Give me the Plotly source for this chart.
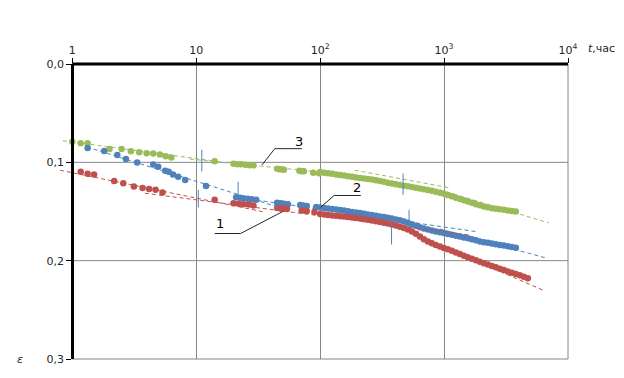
import numpy as np
import plotly.graph_objects as go

# ---------------- data ----------------
dense_t = [100, 108, 116, 125, 135, 145, 156, 168, 181, 195, 210, 226, 243, 262, 282, 304, 327, 352,
           379, 408, 440, 474, 510, 550, 592, 638, 687, 740, 797, 858, 925, 996, 1073, 1156, 1245,
           1341, 1444, 1556, 1676, 1805, 1944, 2094, 2256, 2430, 2617, 2819, 3036, 3270, 3522, 3794]
red_tail_t = [4087, 4400, 4740]

green_t = [1.0, 1.17, 1.33, 2.0, 2.5, 2.97, 3.47, 3.98, 4.5, 5.1, 5.66, 6.3, 14.1,
           20, 21.5, 23, 25, 27, 29, 45, 47, 49, 51, 68, 71, 74, 88, 98] + dense_t
green_e = [0.079, 0.0805, 0.0805, 0.0865, 0.0865, 0.0888, 0.0898, 0.0908, 0.091, 0.092, 0.0938, 0.0951, 0.0989,
           0.1015, 0.102, 0.102, 0.1025, 0.103, 0.103, 0.1065, 0.107, 0.107, 0.1075, 0.1085, 0.109, 0.109, 0.1105, 0.111,
           0.1098, 0.1105, 0.1111, 0.1117, 0.1123, 0.1129, 0.1135, 0.1141, 0.1147, 0.1153,
           0.1159, 0.1165, 0.1170, 0.1175, 0.1181, 0.1189, 0.1198, 0.1207, 0.1215, 0.1222,
           0.1230, 0.1237, 0.1244, 0.1251, 0.1258, 0.1265, 0.1273, 0.1281, 0.1290, 0.1300,
           0.1310, 0.1320, 0.1333, 0.1346, 0.1359, 0.1373, 0.1386, 0.1399, 0.1412, 0.1425,
           0.1437, 0.1448, 0.1458, 0.1466, 0.1472, 0.1477, 0.1483, 0.1489, 0.1495, 0.1500]

blue_t = [1.33, 1.81, 2.31, 2.71, 3.34, 4.5, 4.94, 5.62, 6.0, 6.5, 7.15, 8.15, 12.0,
          21, 22.5, 24, 26, 28, 30.5, 45, 48, 51, 55, 69, 73, 78, 93] + dense_t
blue_e = [0.0854, 0.0884, 0.0925, 0.0965, 0.1002, 0.1022, 0.1045, 0.1086, 0.1096, 0.1123, 0.1146, 0.118, 0.124,
          0.1355, 0.136, 0.1365, 0.137, 0.1375, 0.138, 0.141, 0.1415, 0.142, 0.1425, 0.1435, 0.144, 0.1445, 0.1455,
          0.1460, 0.1465, 0.1470, 0.1475, 0.1480, 0.1485, 0.1491, 0.1497, 0.1504, 0.1510,
          0.1516, 0.1523, 0.1530, 0.1536, 0.1543, 0.1550, 0.1557, 0.1564, 0.1572, 0.1581,
          0.1590, 0.1601, 0.1614, 0.1629, 0.1645, 0.1660, 0.1673, 0.1684, 0.1694, 0.1703,
          0.1711, 0.1719, 0.1728, 0.1737, 0.1746, 0.1755, 0.1764, 0.1773, 0.1783, 0.1793,
          0.1804, 0.1812, 0.1819, 0.1826, 0.1833, 0.1840, 0.1847, 0.1854, 0.1861, 0.1868]

red_t = [1.17, 1.33, 1.5, 2.18, 2.58, 3.14, 3.69, 4.17, 4.7, 5.35, 14.1,
         20, 22, 24, 26.5, 29, 45, 48, 51, 54, 71, 75, 78, 90] + dense_t + red_tail_t
red_e = [0.1096, 0.1116, 0.1123, 0.119, 0.1213, 0.1247, 0.126, 0.127, 0.128, 0.1307, 0.138,
         0.1415, 0.142, 0.1425, 0.143, 0.1438, 0.1465, 0.147, 0.147, 0.1475, 0.149, 0.149, 0.1495, 0.1505,
         0.1526, 0.1531, 0.1536, 0.1540, 0.1544, 0.1548, 0.1552, 0.1556, 0.1561, 0.1566,
         0.1572, 0.1578, 0.1585, 0.1592, 0.1599, 0.1606, 0.1614, 0.1623, 0.1633, 0.1643,
         0.1655, 0.1667, 0.1683, 0.1703, 0.1727, 0.1755, 0.1781, 0.1804, 0.1823, 0.1840,
         0.1855, 0.1870, 0.1885, 0.1900, 0.1916, 0.1933, 0.1949, 0.1965, 0.1981, 0.1997,
         0.2012, 0.2026, 0.2040, 0.2054, 0.2068, 0.2083, 0.2096, 0.2109, 0.2122, 0.2135,
         0.2148, 0.2163, 0.2180]

# trend-line segments (start, end)
green_trend_t = [[0.841, 14.1], [8.9, 130.8], [190, 1112], [923, 6985]]
green_trend_e = [[0.0780, 0.0987], [0.0967, 0.1113], [0.1080, 0.1259], [0.1279, 0.1616]]
blue_trend_t = [[1.31, 47.3], [20.9, 1870], [923, 6486]]
blue_trend_e = [[0.0844, 0.1460], [0.1354, 0.1707], [0.1677, 0.1969]]
red_trend_t = [[0.796, 35.8], [3.85, 1610], [767, 6220]]
red_trend_e = [[0.1080, 0.1506], [0.1314, 0.1740], [0.1798, 0.2298]]

# break markers (vertical strokes)
break_t = [11.1, 467, 21.8, 522, 10.4, 377]
break_e = [[0.0871, 0.1093], [0.1113, 0.1331], [0.1197, 0.1348], [0.1482, 0.1667],
           [0.1281, 0.1458], [0.1616, 0.1835]]

# curve labels and leader lines
label_text = ["1", "2", "3"]
label_t = [15.5, 197.7, 67.3]
label_e = [0.1626, 0.1254, 0.0790]
leader_t = [[14.1, 22.8, 50.3], [212.9, 129.7, 100.7], [71.2, 43.1, 33.9]]
leader_e = [[0.1724, 0.1724, 0.1498], [0.1337, 0.1337, 0.1458], [0.0861, 0.0861, 0.1027]]

x_tickvals = [1, 10, 100, 1000, 10000]
x_ticktext = ["1", "10", "10<sup>2</sup>", "10<sup>3</sup>", "10<sup>4</sup>"]
y_tickvals = [0.0, 0.1, 0.2, 0.3]
y_ticktext = ["0,0", "0,1", "0,2", "0,3"]
y_grid = [0.1, 0.2]

# ---------------- style ----------------
GREEN = "#9BBB59"
BLUE = "#4F81BD"
RED = "#C0504D"
GRID = "#868686"
FONT = "DejaVu Sans, Verdana, sans-serif"

X_LEFT = -0.107          # log10 of left edge of plotting area
X_AXIS_POS = (0 - X_LEFT) / (4 - X_LEFT)   # paper position of t = 1

fig = go.Figure()

for t, e, c in [(green_t, green_e, GREEN), (blue_t, blue_e, BLUE), (red_t, red_e, RED)]:
    fig.add_trace(go.Scatter(x=t, y=e, mode="markers",
                             marker=dict(size=6.5, color=c, line=dict(width=0)),
                             showlegend=False, hoverinfo="skip"))

for tt, ee, c in [(green_trend_t, green_trend_e, GREEN), (blue_trend_t, blue_trend_e, BLUE),
                  (red_trend_t, red_trend_e, RED)]:
    for t, e in zip(tt, ee):
        fig.add_trace(go.Scatter(x=t, y=e, mode="lines",
                                 line=dict(color=c, width=1, dash="4px,3px"),
                                 showlegend=False, hoverinfo="skip"))

for t, e in zip(break_t, break_e):
    fig.add_trace(go.Scatter(x=[t, t], y=e, mode="lines",
                             line=dict(color=BLUE, width=1),
                             showlegend=False, hoverinfo="skip"))

for t, e in zip(leader_t, leader_e):
    fig.add_trace(go.Scatter(x=t, y=e, mode="lines",
                             line=dict(color="#262626", width=1),
                             showlegend=False, hoverinfo="skip"))

for txt, t, e in zip(label_text, label_t, label_e):
    fig.add_annotation(x=np.log10(t), y=e, xref="x", yref="y", text=txt, showarrow=False,
                       font=dict(family=FONT, size=13, color="#000"))

shapes = []
for g in y_grid:
    shapes.append(dict(type="line", xref="paper", yref="y", x0=X_AXIS_POS, x1=1, y0=g, y1=g,
                       line=dict(color=GRID, width=1), layer="below"))
shapes.append(dict(type="line", xref="paper", yref="paper", x0=X_AXIS_POS, x1=1, y0=0, y1=0,
                   line=dict(color=GRID, width=1), layer="below"))
shapes.append(dict(type="line", xref="paper", yref="paper", x0=1, x1=1, y0=0, y1=1,
                   line=dict(color=GRID, width=1), layer="below"))
shapes.append(dict(type="line", xref="paper", yref="paper", x0=X_AXIS_POS, x1=1, y0=1, y1=1,
                   line=dict(color="black", width=3), layer="above"))

fig.add_annotation(xref="paper", yref="paper", x=1.036, y=1.054, xanchor="left", yanchor="middle",
                   text="<i>t</i>,час", showarrow=False, font=dict(family=FONT, size=11, color="#262626"))
fig.add_annotation(xref="paper", yref="paper", x=-0.077, y=0.0, xanchor="center", yanchor="middle",
                   text="<i>ε</i>", showarrow=False, font=dict(family=FONT, size=11, color="#262626"))

fig.update_layout(
    width=624, height=378,
    margin=dict(l=59, r=56, t=64, b=16),
    paper_bgcolor="white", plot_bgcolor="white",
    showlegend=False, hovermode=False,
    font=dict(family=FONT, size=11, color="#262626"),
    shapes=shapes,
)
fig.update_xaxes(type="log", range=[X_LEFT, 4], side="top",
                 tickmode="array", tickvals=x_tickvals, ticktext=x_ticktext,
                 ticks="outside", ticklen=5, tickwidth=1, tickcolor="black",
                 showgrid=True, gridcolor=GRID, gridwidth=1,
                 showline=False, zeroline=False)
fig.update_yaxes(range=[0.3, 0], anchor="free", position=X_AXIS_POS,
                 tickmode="array", tickvals=y_tickvals, ticktext=y_ticktext,
                 ticks="outside", ticklen=5, tickwidth=1, tickcolor="black",
                 showline=True, linecolor="black", linewidth=3,
                 showgrid=False, zeroline=False)

fig.write_html("out.html")
